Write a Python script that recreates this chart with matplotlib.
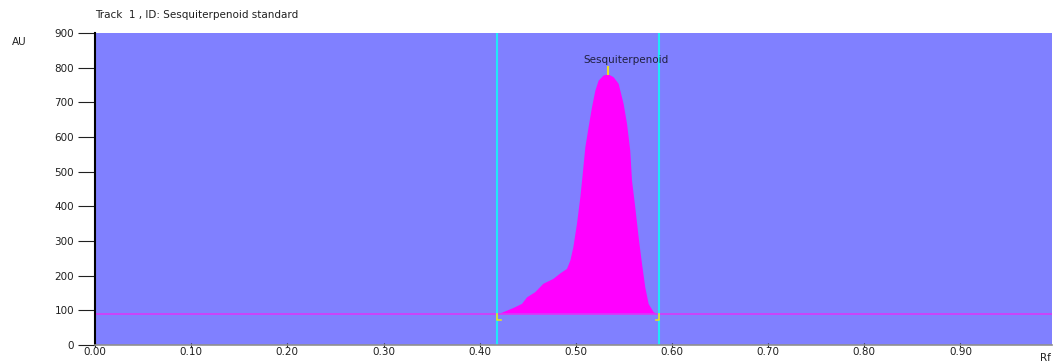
import matplotlib
matplotlib.use("Agg")
import matplotlib.pyplot as plt

# Densitometric scan of the track (Rf vs absorbance units)
rf = [0.419, 0.424, 0.4345, 0.4435, 0.4488, 0.4574, 0.4657, 0.4761, 0.4834,
      0.4903, 0.4938, 0.4969, 0.5007, 0.5042, 0.506, 0.5094, 0.5128, 0.5163,
      0.5198, 0.5232, 0.5284, 0.5336, 0.5388, 0.544, 0.5492, 0.5527, 0.5561,
      0.5579, 0.5613, 0.5648, 0.5683, 0.5717, 0.5752, 0.5804, 0.5856]
au = [90, 96, 108, 120, 139, 154, 178, 192, 208,
      221, 245, 283, 351, 428, 476, 572, 630, 687,
      735, 764, 779, 782, 774, 755, 697, 640, 562,
      476, 399, 312, 236, 168, 120, 96, 89]

baseline_au = 90
peak_start, peak_end = 0.418, 0.587
peak_rf, peak_au = 0.5336, 782
peak_name = "Sesquiterpenoid"
title = "Track  1 , ID: Sesquiterpenoid standard"

x_ticks = [0.0, 0.1, 0.2, 0.3, 0.4, 0.5, 0.6, 0.7, 0.8, 0.9]
y_ticks = [0, 100, 200, 300, 400, 500, 600, 700, 800, 900]

FS = 7.5
fig = plt.figure(figsize=(10.56, 3.63), dpi=100)
ax = fig.add_axes([0.09, 0.0496, 0.906, 0.8594])
ax.set_facecolor("#8080FF")

ax.fill_between(rf, baseline_au, au, color="#FF00FF", linewidth=0)
ax.axhline(baseline_au, color="#D838F8", lw=1.2)
ax.axvline(peak_start, color="#20E8F8", lw=1.5)
ax.axvline(peak_end, color="#20E8F8", lw=1.5)

# integration boundary markers
ax.plot([peak_start, peak_start, peak_start + 0.004], [baseline_au, baseline_au - 18, baseline_au - 18],
        color="#E8E020", lw=1.2)
ax.plot([peak_end, peak_end, peak_end - 0.004], [baseline_au, baseline_au - 18, baseline_au - 18],
        color="#E8E020", lw=1.2)
ax.plot([peak_rf, peak_rf], [peak_au, peak_au + 20], color="#E8E020", lw=1.5)
ax.text(peak_rf - 0.0255, peak_au + 25, peak_name, fontsize=FS, color="#202040",
        ha="left", va="bottom")

ax.set_xlim(0, 0.995)
ax.set_ylim(0, 900)
ax.set_xticks(x_ticks)
ax.set_xticklabels([f"{v:.2f}" for v in x_ticks])
ax.set_yticks(y_ticks)
ax.tick_params(axis="y", length=12, width=0.8, labelsize=FS, pad=3, colors="#202020")
ax.tick_params(axis="x", length=3, width=0.8, labelsize=FS, pad=0, colors="#202020",
               direction="inout")

for side in ("top", "right"):
    ax.spines[side].set_visible(False)
ax.spines["left"].set_color("black")
ax.spines["left"].set_linewidth(1.5)
ax.spines["bottom"].set_color("#909090")
ax.spines["bottom"].set_linewidth(1.2)

fig.text(95 / 1056, 1 - 15 / 363, title, fontsize=FS, ha="left", va="center", color="#202020")
fig.text(12 / 1056, 1 - 42 / 363, "AU", fontsize=FS, ha="left", va="center", color="#202020")
fig.text(1040 / 1056, 1 - 358 / 363, "Rf", fontsize=FS, ha="left", va="center", color="#202020")

fig.savefig("out.png", dpi=100)
